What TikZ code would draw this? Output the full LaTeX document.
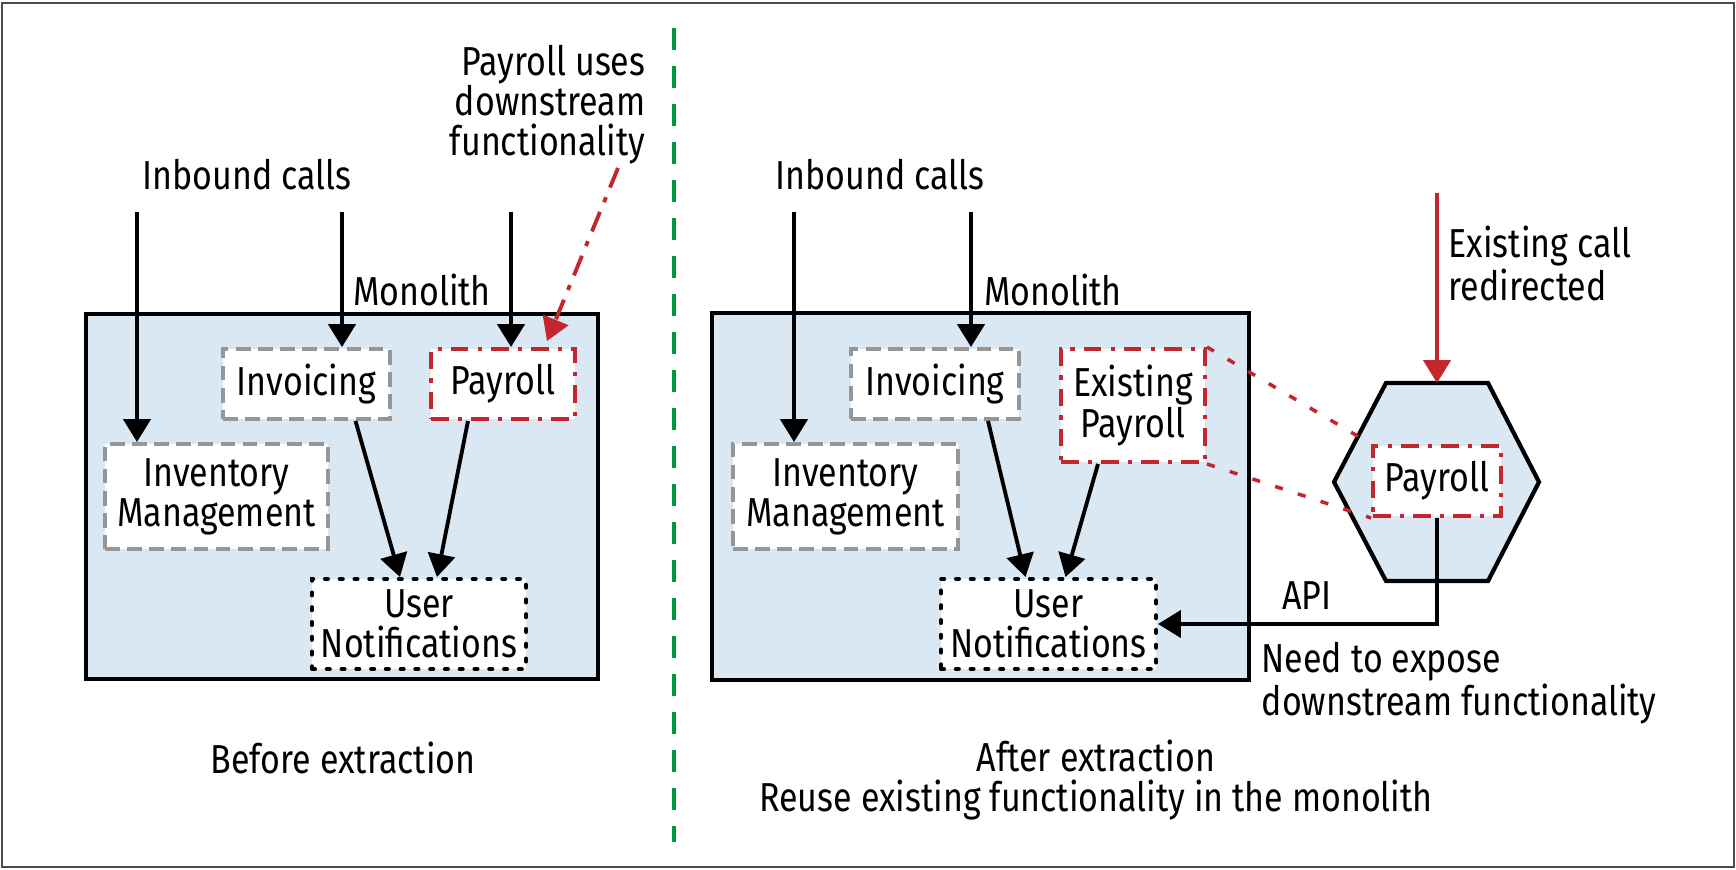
\documentclass[tikz,border=0pt]{standalone}
\usepackage{fontspec}
\setmainfont{Fira Sans}[FakeStretch=0.84]
\usetikzlibrary{arrows.meta,calc}
\definecolor{monofill}{RGB}{218,232,244}
\definecolor{callred}{RGB}{196,38,46}
\definecolor{svcgray}{RGB}{150,150,150}
\definecolor{splitgreen}{RGB}{0,150,64}
\begin{document}
\begin{tikzpicture}[x=0.01cm,y=-0.01cm,
  font=\fontsize{11.5}{11.4}\selectfont,
  mono/.style={draw,line width=1.2pt,fill=monofill,inner sep=0pt},
  svc/.style={fill=white,line width=1.1pt,inner sep=0pt,align=center},
  oldsvc/.style={svc,draw=svcgray,dash pattern=on 4.2pt off 2.1pt},
  movesvc/.style={svc,draw=callred,dash pattern=on 5pt off 2.6pt on 1.2pt off 2.6pt},
  notesvc/.style={svc,draw=black,line cap=round,dash pattern=on 0.9pt off 3.3pt},
  call/.style={line width=1.1pt,-{Triangle[length=6.5pt,width=7.7pt]}},
  lbl/.style={inner sep=0pt}]
  \useasboundingbox (0,0) rectangle (1736,870);
  \draw[black!70,line width=0.5pt] (2,3) rectangle (1734,867);
  \draw[splitgreen,line width=1.1pt,dash pattern=on 6.3pt off 4.5pt] (674,28) -- (674,842);

  % before extraction
  \node[mono,minimum width=5.12cm,minimum height=3.65cm] (mono1) at (342,496.5) {};
  \node[lbl,anchor=base] (monolbl1) at (422,305) {Monolith};
  \node[lbl,anchor=base] (inlbl1) at (247,190) {Inbound calls};
  \node[oldsvc,minimum width=1.67cm,minimum height=0.70cm] (inv1) at (306.5,384) {Invoicing};
  \node[movesvc,minimum width=1.44cm,minimum height=0.70cm] (pay1) at (503,384) {Payroll};
  \node[oldsvc,minimum width=2.23cm,minimum height=1.05cm] (invm1) at (216.5,496.5) {Inventory\\Management};
  \node[notesvc,minimum width=2.14cm,minimum height=0.90cm] (un1) at (419,624) {User\\Notifications};
  \coordinate (in1a) at (137,212);
  \coordinate (in1b) at (342,212);
  \coordinate (in1c) at (511,212);
  \draw[call] (in1a) -- (in1a |- invm1.north);
  \draw[call] (in1b) -- (in1b |- inv1.north);
  \draw[call] (in1c) -- (in1c |- pay1.north);
  \draw[call] ($(inv1.south)+(49,0)$) -- ($(un1.north)+(-19,0)$);
  \draw[call] ($(pay1.south)+(-35,0)$) -- ($(un1.north)+(18,0)$);
  \node[lbl,align=right,anchor=north east] (uselbl) at (646,44) {Payroll uses\\downstream\\functionality};
  \coordinate (usefrom) at (618,168);
  \draw[call,callred,dash pattern=on 6pt off 3pt on 1.5pt off 3pt] (usefrom) -- ($(pay1.north east)+(-30,-6)$);
  \node[lbl] (beforelbl) at (343,758) {Before extraction};

  % after extraction
  \node[mono,minimum width=5.37cm,minimum height=3.67cm] (mono2) at (980.5,496.5) {};
  \node[lbl,anchor=base] (monolbl2) at (1053,305) {Monolith};
  \node[lbl,anchor=base] (inlbl2) at (880,190) {Inbound calls};
  \node[oldsvc,minimum width=1.68cm,minimum height=0.70cm] (inv2) at (935,384) {Invoicing};
  \node[movesvc,minimum width=1.44cm,minimum height=1.13cm] (expay) at (1133,405.5) {Existing\\Payroll};
  \node[oldsvc,minimum width=2.25cm,minimum height=1.05cm] (invm2) at (845.5,496.5) {Inventory\\Management};
  \node[notesvc,minimum width=2.15cm,minimum height=0.90cm] (un2) at (1048.5,624) {User\\Notifications};
  \coordinate (in2a) at (794,212);
  \coordinate (in2b) at (971,212);
  \draw[call] (in2a) -- (in2a |- invm2.north);
  \draw[call] (in2b) -- (in2b |- inv2.north);
  \draw[call] ($(inv2.south)+(53,0)$) -- ($(un2.north)+(-23,0)$);
  \draw[call] ($(expay.south)+(-35,0)$) -- ($(un2.north)+(17,0)$);

  % extracted payroll service
  \draw[mono] (1386,383) -- (1488,383) -- (1539,482) -- (1488,581) -- (1386,581) -- (1334,482) -- cycle;
  \coordinate (hextop) at (1437,383);
  \node[movesvc,minimum width=1.28cm,minimum height=0.70cm] (hexpay) at (1437,481) {Payroll};
  \coordinate (redir) at (1437,193);
  \draw[call,callred] (redir) -- (hextop);
  \node[lbl,align=left,anchor=north west] (redirlbl) at (1448,225) {Existing call\\redirected};
  \draw[callred,line width=1pt,dash pattern=on 2.3pt off 4.5pt] (expay.north east) -- (hexpay.north west);
  \draw[callred,line width=1pt,dash pattern=on 2.3pt off 4.5pt] (expay.south east) -- (hexpay.south west);
  \draw[call] (hexpay.south) |- (un2.east);
  \node[lbl,anchor=base] (apilbl) at (1307,609) {API};
  \node[lbl,align=left,anchor=north west] (exposelbl) at (1261,641) {Need to expose\\downstream functionality};
  \node[lbl,align=center] (afterlbl) at (1096,780) {After extraction\\Reuse existing functionality in the monolith};
\end{tikzpicture}
\end{document}
